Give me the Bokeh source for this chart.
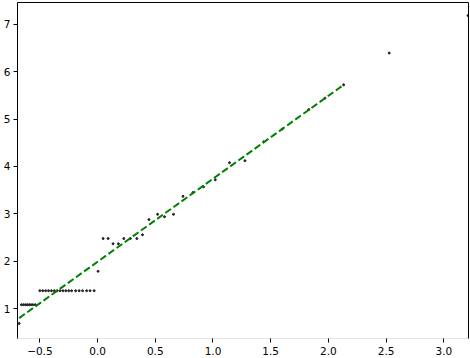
from bokeh.plotting import figure
from bokeh.models import Range1d, FixedTicker, LinearAxis
from bokeh.embed import file_html
from bokeh.resources import INLINE

# scatter data
x_pts = [-0.68,
         -0.66, -0.643, -0.626, -0.61, -0.593, -0.577, -0.56, -0.54,
         -0.50, -0.475, -0.45, -0.425, -0.40, -0.375, -0.35, -0.325, -0.30, -0.275, -0.25, -0.225,
         -0.19, -0.16, -0.13, -0.095, -0.065, -0.03,
         0.004,
         0.048, 0.091, 0.134, 0.18, 0.227, 0.284, 0.34, 0.389,
         0.445, 0.52, 0.58, 0.658, 0.74, 0.826, 0.918, 1.02,
         1.143, 1.277, 1.44, 1.60, 1.83, 1.97, 2.132, 2.527, 3.21]
y_pts = [0.69,
         1.085, 1.085, 1.085, 1.085, 1.085, 1.085, 1.085, 1.085,
         1.38, 1.38, 1.38, 1.38, 1.38, 1.38, 1.38, 1.38, 1.38, 1.38, 1.38, 1.38,
         1.38, 1.38, 1.38, 1.38, 1.38, 1.38,
         1.79,
         2.48, 2.48, 2.37, 2.37, 2.48, 2.48, 2.48, 2.56,
         2.88, 2.99, 2.94, 2.99, 3.37, 3.45, 3.57, 3.72,
         4.08, 4.12, 4.52, 4.79, 5.2, 5.44, 5.72, 6.39, 7.18]

# fitted line
line_x = [-0.75, 2.132]
line_y = [0.68, 5.72]

x_ticks = [-0.5, 0.0, 0.5, 1.0, 1.5, 2.0, 2.5, 3.0]
x_tick_labels = ["\u22120.5", "0.0", "0.5", "1.0", "1.5", "2.0", "2.5", "3.0"]
y_ticks = [1, 2, 3, 4, 5, 6, 7]
y_tick_labels = ["1", "2", "3", "4", "5", "6", "7"]

p = figure(width=470, height=358, title=None,
           x_range=Range1d(-0.694, 3.214), y_range=Range1d(0.373, 7.456),
           output_backend="svg", toolbar_location=None,
           min_border_left=16, min_border_right=2, min_border_top=2, min_border_bottom=20)
p.styles = {"position": "absolute", "left": "0px", "top": "0px"}
p.xgrid.visible = False
p.ygrid.visible = False
p.outline_line_color = None
p.background_fill_color = "white"
p.border_fill_color = "white"

for ax, ticks, labels in ((p.xaxis[0], x_ticks, x_tick_labels), (p.yaxis[0], y_ticks, y_tick_labels)):
    ax.ticker = FixedTicker(ticks=ticks)
    ax.major_label_overrides = dict(zip(ticks, labels))
    ax.major_tick_out = 4
    ax.major_tick_in = 0
    ax.minor_tick_line_color = None
    ax.major_tick_line_color = "black"
    ax.major_label_text_font = "DejaVu Sans"
    ax.major_label_text_font_size = "10.5px"
    ax.major_label_text_color = "black"
    ax.axis_line_color = "black"

p.xaxis[0].major_label_standoff = 4
p.yaxis[0].major_label_standoff = 3
p.xaxis[0].axis_line_color = "#e4e4e4"

for loc in ("above", "right"):
    a = LinearAxis(ticker=FixedTicker(ticks=[]), major_tick_out=0, major_tick_in=0,
                   major_label_standoff=0, major_label_text_font_size="0px",
                   major_tick_line_color=None, minor_tick_line_color=None,
                   axis_line_color="black")
    p.add_layout(a, loc)

p.scatter(x_pts, y_pts, size=2, color="#222222")
p.line(line_x, line_y, line_color="green", line_width=2, line_dash="7 3")

open("out.html", "w").write(file_html(p, INLINE))
